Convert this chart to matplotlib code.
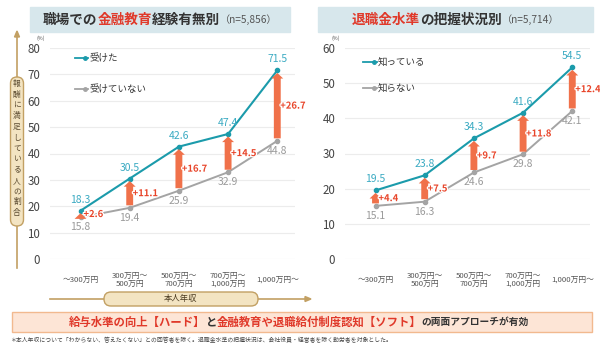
import matplotlib
matplotlib.use("Agg")
import matplotlib.pyplot as plt
import matplotlib.patheffects as pe
from matplotlib.patches import FancyBboxPatch, Rectangle, Polygon
from matplotlib.transforms import IdentityTransform

plt.rcParams['font.family'] = ['Noto Sans CJK JP', 'DejaVu Sans']

# ---- data ----
categories = ["～300万円", "300万円～\n500万円", "500万円～\n700万円",
              "700万円～\n1,000万円", "1,000万円～"]

edu_yes = [18.3, 30.5, 42.6, 47.4, 71.5]
edu_no = [15.8, 19.4, 25.9, 32.9, 44.8]
edu_diff = [2.6, 11.1, 16.7, 14.5, 26.7]

ret_yes = [19.5, 23.8, 34.3, 41.6, 54.5]
ret_no = [15.1, 16.3, 24.6, 29.8, 42.1]
ret_diff = [4.4, 7.5, 9.7, 11.8, 12.4]

TEAL = "#1b9bab"
TEAL_TXT = "#3aaac2"
GRAY = "#a4a4a4"
GRAY_TXT = "#9a9a9a"
ARROW = "#f0714a"
RED = "#e0392a"
DARK = "#333333"
TAN = "#c2a063"
TAN_FILL = "#f3e4c2"

W, H = 600, 345
fig = plt.figure(figsize=(6, 3.45), dpi=100)
renderer = fig.canvas.get_renderer()
PIX = IdentityTransform()


def fx(x):
    return x / W


def fy(y):
    return 1 - y / H


def rich_text(xc, y, parts):
    # lay out coloured pieces side by side, centred on xc (pixels)
    texts = []
    for s, kw in parts:
        t = fig.text(0, fy(y), s, va="center", ha="left", **kw)
        texts.append(t)
    widths = [t.get_window_extent(renderer).width for t in texts]
    x = xc - sum(widths) / 2
    for t, w in zip(texts, widths):
        t.set_x(fx(x))
        x += w


def pill(x0, y0, x1, y1, r):
    # rounded box given in pixels, y measured from the top
    fig.patches.append(FancyBboxPatch((x0, H - y1), x1 - x0, y1 - y0,
                                      boxstyle=f"round,pad=0,rounding_size={r}",
                                      transform=PIX, fc=TAN_FILL, ec=TAN,
                                      lw=1.0, zorder=2))


def panel(x0, x1, ymax, yes, no, diff, title_parts, title_box):
    # title box
    bx0, bx1 = title_box
    fig.patches.append(Rectangle((fx(bx0), fy(32)), fx(bx1 - bx0), 25 / H,
                                 transform=fig.transFigure, color="#d7e7ec",
                                 zorder=0))
    rich_text((bx0 + bx1) / 2, 19.5, title_parts)

    ax = fig.add_axes([fx(x0), fy(259), fx(x1 - x0), 211 / H])
    ax.set_ylim(0, ymax)
    ax.set_xlim(-0.62, 4.36)
    ax.set_yticks(range(0, ymax + 1, 10))
    ax.yaxis.grid(True, color="#ececec", lw=0.8)
    ax.set_axisbelow(True)
    for s in ax.spines.values():
        s.set_visible(False)
    ax.tick_params(axis="y", length=0, labelsize=8.3, labelcolor="#444444",
                   pad=7)
    ax.set_xticks(range(len(categories)))
    ax.set_xticklabels(categories, fontsize=5.6, color="#555555",
                       linespacing=1.1, va="center")
    ax.tick_params(axis="x", length=0, pad=15)
    ax.text(-0.02, 1.04, "(%)", transform=ax.transAxes, fontsize=3.8,
            color="#555555", ha="right")

    xs = range(len(categories))
    ax.plot(xs, yes, color=TEAL, lw=1.5, marker="o", ms=3, zorder=3)
    ax.plot(xs, no, color=GRAY, lw=1.4, marker="o", ms=3, zorder=3)

    per = ymax / 211.0  # data units per pixel
    for i in xs:
        ax.text(i, yes[i] + 6 * per, f"{yes[i]}", color=TEAL_TXT,
                fontsize=7.5, ha="center", va="bottom")
        ax.text(i, no[i] - 5 * per, f"{no[i]}", color=GRAY_TXT, fontsize=7.5,
                ha="center", va="top")
        lo = no[i] + 2.5 * per
        hi = yes[i] - 2.5 * per
        ax.annotate("", xy=(i, hi), xytext=(i, lo),
                    arrowprops=dict(arrowstyle="simple,head_length=0.45,"
                                    "head_width=0.95,tail_width=0.55",
                                    color=ARROW, lw=0, mutation_scale=9,
                                    shrinkA=0, shrinkB=0), zorder=4)
        ax.text(i + 0.06, (no[i] + yes[i]) / 2, f"+{diff[i]}", color="#e8452a",
                fontsize=6.8, fontweight="bold", ha="left", va="center",
                zorder=5,
                path_effects=[pe.withStroke(linewidth=1.8, foreground="white")])
    return ax


T = dict(fontsize=9.8, fontweight="bold")
axL = panel(50, 295, 80, edu_yes, edu_no, edu_diff,
            [("職場での", dict(color=DARK, **T)),
             ("金融教育", dict(color=RED, **T)),
             ("経験有無別", dict(color=DARK, **T)),
             ("（n=5,856）", dict(fontsize=7.3, color="#555555"))],
            (30, 290))
axR = panel(345, 590, 60, ret_yes, ret_no, ret_diff,
            [("退職金水準", dict(color=RED, **T)),
             ("の把握状況別", dict(color=DARK, **T)),
             ("（n=5,714）", dict(fontsize=7.3, color="#555555"))],
            (318, 593))


def legend_rows(x0, x1, rows):
    for y, lab, c in rows:
        fig.add_artist(plt.Line2D([fx(x0), fx(x1)], [fy(y), fy(y)], color=c,
                                  lw=1.3, transform=fig.transFigure))
        fig.add_artist(plt.Line2D([fx(x1 - 3)], [fy(y)], color=c, marker="o",
                                  ms=2.5, transform=fig.transFigure))
        fig.text(fx(x1 + 1), fy(y), lab, fontsize=6.8, color=DARK,
                 va="center", ha="left")


legend_rows(75, 88, [(58, "受けた", TEAL), (89, "受けていない", GRAY)])
legend_rows(363, 377, [(62, "知っている", TEAL), (88, "知らない", GRAY)])

# y-axis arrow with vertical caption
fig.add_artist(plt.Line2D([17, 17], [H - 268, H - 36], color=TAN, lw=1.2,
                          transform=PIX))
fig.patches.append(Polygon([[14.5, H - 37], [19.5, H - 37], [17, H - 31]],
                           closed=True, color=TAN, transform=PIX))
pill(10.5, 77, 23.5, 226, 6.5)
vlabel = "報酬に満足している人の割合"
step = 140 / len(vlabel)
for k, ch in enumerate(vlabel):
    fig.text(17 / W, fy(84 + step * k), ch, fontsize=5.6, color="#5a4a30",
             ha="center", va="center", zorder=3)

# x-axis arrow with caption
fig.add_artist(plt.Line2D([50, 306], [H - 299, H - 299], color=TAN, lw=1.2,
                          transform=PIX))
fig.patches.append(Polygon([[305, H - 296.5], [305, H - 301.5],
                            [311, H - 299]], closed=True, color=TAN,
                           transform=PIX))
pill(104, 292, 258, 306, 7)
fig.text(fx(181), fy(299), "本人年収", fontsize=6, color="#4a3a20",
         ha="center", va="center", zorder=3)

# conclusion banner
fig.patches.append(Rectangle((fx(12), fy(332)), fx(580), 20 / H,
                             transform=fig.transFigure, fc="#fde5d6",
                             ec="#f2b98f", lw=1.0))
rich_text(299, 322, [
    ("給与水準の向上【ハード】", dict(fontsize=8.2, color=RED, fontweight="bold")),
    ("と", dict(fontsize=8.2, color=DARK, fontweight="bold")),
    ("金融教育や退職給付制度認知【ソフト】", dict(fontsize=8.2, color=RED,
                                        fontweight="bold")),
    ("の両面アプローチが有効", dict(fontsize=7, color=DARK, fontweight="bold")),
])

fig.text(fx(10), fy(340.5),
         "＊本人年収について「わからない、答えたくない」との回答者を除く。"
         "退職金水準の把握状況は、会社役員・経営者を除く勤労者を対象とした。",
         fontsize=4.2, color="#444444", ha="left", va="center")

fig.savefig("out.png", dpi=100)
